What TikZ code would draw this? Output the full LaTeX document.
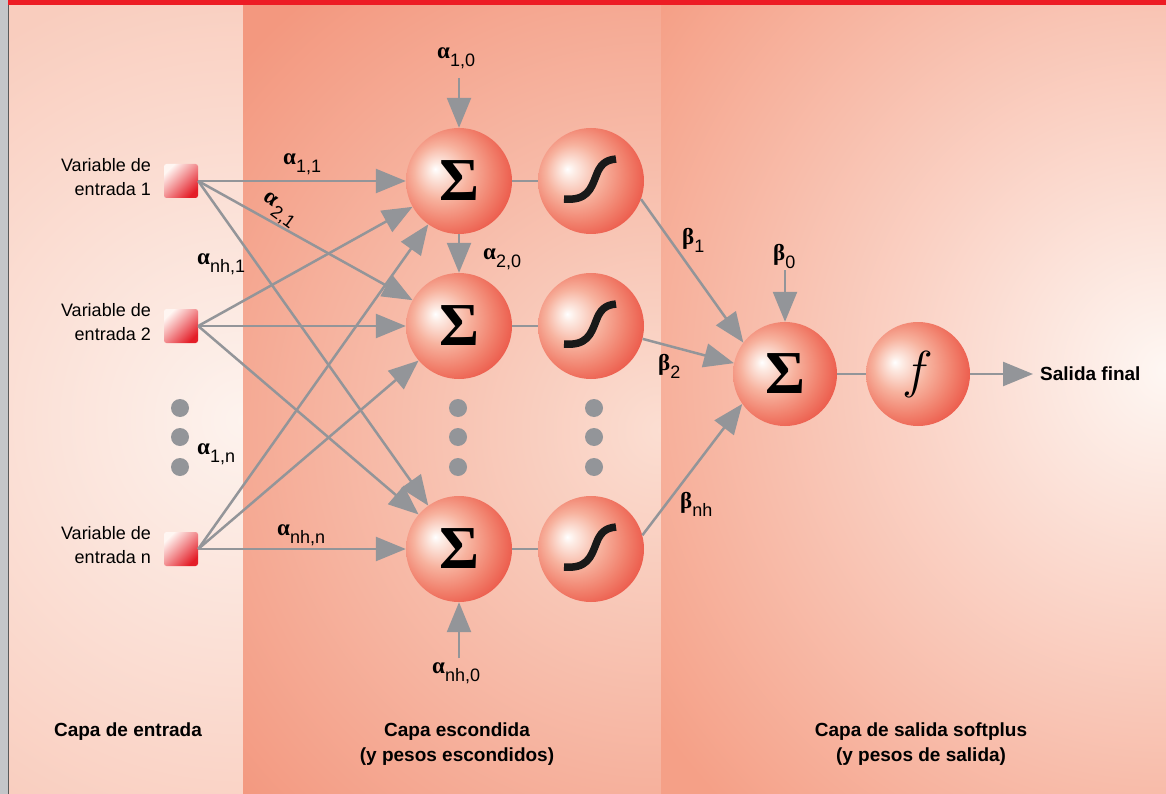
\documentclass[tikz,border=0pt]{standalone}
\usepackage{fix-cm}
\usepackage{amsmath}
\usepackage{fontspec}
\setmainfont{Liberation Sans}
\setsansfont{Liberation Sans}
\newfontfamily\serifgk{Liberation Serif}
\usetikzlibrary{arrows.meta}

\definecolor{arr}{RGB}{147,149,153}
\definecolor{leftin}{RGB}{253,243,238}
\definecolor{leftout}{RGB}{249,205,190}
\definecolor{midin}{RGB}{251,222,210}
\definecolor{midout}{RGB}{243,152,127}
\definecolor{rightin}{RGB}{254,247,243}
\definecolor{rightout}{RGB}{245,160,135}
\definecolor{stripgray}{RGB}{196,198,201}
\definecolor{stripline}{RGB}{90,90,90}
\definecolor{redbar}{RGB}{237,28,36}
\definecolor{sphA}{RGB}{253,236,229}
\definecolor{sphB}{RGB}{247,178,158}
\definecolor{sphC}{RGB}{241,128,108}
\definecolor{sphD}{RGB}{232,62,50}
\definecolor{sqTop}{RGB}{255,246,242}
\definecolor{sqBot}{RGB}{228,30,40}

\pgfdeclareradialshading{sphere}{\pgfpoint{-11.3bp}{5.7bp}}{color(0bp)=(white); color(3bp)=(sphA); color(13bp)=(sphB); color(23bp)=(sphC); color(36bp)=(sphD); color(50bp)=(sphD)}

\newcommand{\bigsig}{{\serifgk\bfseries\fontsize{61}{61}\selectfont Σ}}
\newcommand{\ffun}{{\fontsize{52}{52}\selectfont$f$}}
\newcommand{\al}{{\serifgk\bfseries\fontsize{23}{23}\selectfont α}}
\newcommand{\be}{{\serifgk\bfseries\fontsize{23}{23}\selectfont β}}
\newcommand{\subl}[1]{\raisebox{-8pt}{#1}}

\tikzset{
 sphnode/.style={circle, minimum size=106pt, inner sep=0pt, shade, shading=sphere},
 insq/.style={rectangle, minimum size=34pt, inner sep=0pt, rounded corners=2.5pt, shade, top color=sqTop, bottom color=sqBot, shading angle=45},
 wire/.style={draw=arr, line width=2.5pt, -{Triangle[length=30pt,width=24pt]}},
 link/.style={draw=arr, line width=2.5pt},
 vdot/.style={circle, fill=arr, minimum size=18pt, inner sep=0pt},
 wlab/.style={inner sep=0pt, anchor=base west, font=\fontsize{18}{22}\selectfont},
 inlab/.style={anchor=east, align=right, inner sep=0pt, font=\fontsize{18}{24}\selectfont},
 caplab/.style={anchor=north, align=center, inner sep=0pt, font=\bfseries\fontsize{19}{25}\selectfont},
 sigline/.style={line width=7.5pt, black!90}
}

\begin{document}
\begin{tikzpicture}[x=1pt,y=-1pt]
\useasboundingbox (0,0) rectangle (1166,794);
% panels
\fill[leftout] (8,0) rectangle (243,794);
\begin{scope}
 \clip (8,0) rectangle (243,794);
 \shade[inner color=leftin, outer color=leftout] (243,420) circle (450pt);
\end{scope}
\fill[midout] (243,0) rectangle (661,794);
\begin{scope}
 \clip (243,0) rectangle (661,794);
 \shade[inner color=midin, outer color=midout] (661,430) circle (560pt);
\end{scope}
\fill[rightout] (661,0) rectangle (1166,794);
\begin{scope}
 \clip (661,0) rectangle (1166,794);
 \shade[inner color=rightin, outer color=rightout] (1166,370) circle (620pt);
\end{scope}
\fill[stripgray] (0,0) rectangle (8,794);
\draw[stripline, line width=1pt] (8.5,0) -- (8.5,794);
\fill[redbar] (8,0) rectangle (1166,5);

% input squares and labels
\node[insq] (in1) at (181,181) {};
\node[insq] (in2) at (181,326) {};
\node[insq] (in3) at (181,549) {};
\node[inlab] (t1) at (151,177) {Variable de\\entrada 1};
\node[inlab] (t2) at (151,322) {Variable de\\entrada 2};
\node[inlab] (t3) at (151,545) {Variable de\\entrada n};

% hidden layer
\node[sphnode] (s1) at (459,181) {\bigsig};
\node[sphnode] (s2) at (459,326) {\bigsig};
\node[sphnode] (s3) at (459,549) {\bigsig};
\node[sphnode] (g1) at (591,181) {};
\node[sphnode] (g2) at (591,326) {};
\node[sphnode] (g3) at (591,549) {};
% output layer
\node[sphnode, minimum size=104pt] (o1) at (785,374) {\bigsig};
\node[sphnode, minimum size=104pt] (fn) at (918,374) {\ffun};

% sigmoid glyphs
\foreach \g in {g1,g2,g3}{
 \begin{scope}[shift={(\g.center)}]
  \draw[sigline] (-27,18) .. controls (-4,20) and (0,8) .. (5,-5) .. controls (9,-16) and (14,-21) .. (25,-22);
 \end{scope}
}

% input connections
\foreach \a in {in1,in2,in3}{
 \foreach \b in {s1,s2,s3}{
  \draw[wire] (\a.east) -- (\b);
 }
}

% links
\draw[link] (s1) -- (g1);
\draw[link] (s2) -- (g2);
\draw[link] (s3) -- (g3);
\draw[link] (o1) -- (fn);
\draw[wire] (g1.-20) -- (o1.143);
\draw[wire] (g2.-14) -- (o1.168);
\draw[wire] (g3.15) -- (o1.215);

% bias arrows
\coordinate (a10e) at (459,78);
\coordinate (anh0e) at (459,658);
\coordinate (b0e) at (785,270);
\draw[wire] (a10e) -- (s1);
\draw[wire] (s1) -- (s2);
\draw[wire] (anh0e) -- (s3);
\draw[wire] (b0e) -- (o1);

% output
\node[anchor=west, inner sep=0pt, font=\bfseries\fontsize{19}{22}\selectfont] (outl) at (1040,374) {Salida final};
\draw[wire] (fn) -- ([xshift=-7pt]outl.west);

% dots
\node[vdot] (d1) at (180,408) {};
\node[vdot] (d2) at (180,437) {};
\node[vdot] (d3) at (180,467) {};
\node[vdot] (d4) at (458,408) {};
\node[vdot] (d5) at (458,437) {};
\node[vdot] (d6) at (458,467) {};
\node[vdot] (d7) at (594,408) {};
\node[vdot] (d8) at (594,437) {};
\node[vdot] (d9) at (594,467) {};

% weight labels
\node[wlab] (a10) at (437,59) {\al\subl{1,0}};
\node[wlab] (a11) at (283,165) {\al\subl{1,1}};
\node[wlab, rotate=-36] (a21) at (262,199) {\al\kern2pt\subl{2,1}};
\node[wlab] (anh1) at (197,264) {\al\subl{nh,1}};
\node[wlab] (a20) at (483,259) {\al\subl{2,0}};
\node[wlab] (a1n) at (197,454) {\al\subl{1,n}};
\node[wlab] (anhn) at (277,535) {\al\subl{nh,n}};
\node[wlab] (anh0) at (432,673) {\al\subl{nh,0}};
\node[wlab] (b1) at (682,244) {\be\subl{1}};
\node[wlab] (b2) at (658,370) {\be\subl{2}};
\node[wlab] (bnh) at (680,508) {\be\subl{nh}};
\node[wlab] (b0) at (773,260) {\be\subl{0}};

% layer captions
\node[caplab] (c1) at (128,723) {Capa de entrada};
\node[caplab] (c2) at (457,723) {Capa escondida\\(y pesos escondidos)};
\node[caplab] (c3) at (921,723) {Capa de salida softplus\\(y pesos de salida)};
\end{tikzpicture}
\end{document}
